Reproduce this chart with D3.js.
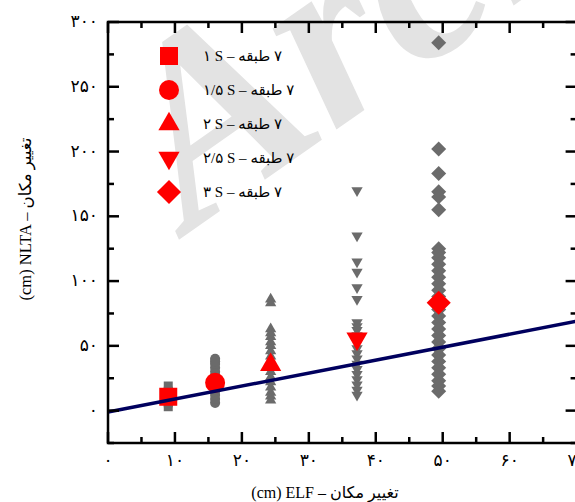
<!DOCTYPE html>
<html>
<head>
<meta charset="utf-8">
<script src="https://cdn.jsdelivr.net/npm/d3@7"></script>
<style>
  body { margin: 0; background: #fff; }
  svg { display: block; font-family: 'Liberation Serif', 'DejaVu Sans', serif; }
</style>
</head>
<body>
<div id="chart"></div>
<script>
// group centres on the ELF axis (cm)
const groupX = [9, 16, 24.3, 37.2, 49.4];
const groupShape = ["square", "circle", "triangle", "triangleDown", "diamond"];
const legendLabels = ["۱ S", "۱/۵ S", "۲ S", "۲/۵ S", "۳ S"];
// mean NLTA per group (red markers)
const meanNLTA = [10.7, 21.5, 35.4, 55.5, 83.3];
// individual records (grey markers)
const g1 = [3, 6, 9, 12, 15, 19];
const g2 = [6, 9, 12, 15, 18, 21, 24, 27, 30, 33, 36, 38, 40];
const g3 = [86, 83, 63, 60, 57, 53, 50, 46, 42, 38, 34, 30, 26, 22, 18, 14, 11, 8];
const g4 = [170, 135, 115, 107, 95, 86, 68, 65, 62, 58, 55, 52, 48, 44, 40, 36, 32, 28, 24, 20, 16, 12];
const g5 = [284, 202, 183, 169, 165, 155, 125, 122, 118, 113, 108, 103, 98, 93, 88, 78, 73, 68, 63, 58, 53, 48, 43, 38, 33, 28, 23, 19, 15];
const groups = [g1, g2, g3, g4, g5];
// fitted line end points
const fitX = [0, 70];
const fitY = [-1, 69];
const xTicks = [0, 10, 20, 30, 40, 50, 60, 70];
const yTicks = [0, 50, 100, 150, 200, 250, 300];

const W = 575, H = 502;
const toFa = n => String(n).replace(/\d/g, c => "۰۱۲۳۴۵۶۷۸۹"[+c]);

const svg = d3.select("#chart").append("svg").attr("width", W).attr("height", H);

const x = d3.scaleLinear().domain([0, 70]).range([108, 576.6]);
const y = d3.scaleLinear().domain([-25, 300]).range([443, 22]);

// watermark
svg.append("text")
  .attr("transform", "translate(190,232) rotate(-35)")
  .attr("font-size", 260)
  .attr("font-weight", "bold")
  .attr("font-style", "italic")
  .attr("fill", "#e3e3e3")
  .text("Archive");

// shape makers
function symFor(shape, big) {
  let s;
  if (shape === "square") s = d3.symbol(d3.symbolSquare, big ? 324 : 81);
  if (shape === "circle") s = d3.symbol(d3.symbolCircle, big ? 314 : 80);
  if (shape === "triangle" || shape === "triangleDown") s = d3.symbol(d3.symbolTriangle, big ? 195 : 55);
  if (shape === "diamond") s = d3.symbol(d3.symbolSquare, big ? 290 : 112);
  return s();
}
function rotFor(shape) {
  if (shape === "triangleDown") return 180;
  if (shape === "diamond") return 45;
  return 0;
}

// grey records
groups.forEach(function(vals, i) {
  svg.append("g").selectAll("path")
    .data(vals)
    .enter().append("path")
    .attr("d", symFor(groupShape[i], false))
    .attr("transform", d => "translate(" + x(groupX[i]) + "," + y(d) + ") rotate(" + rotFor(groupShape[i]) + ")")
    .attr("fill", "#6b6b6b");
});

// means
svg.append("g").selectAll("path")
  .data(meanNLTA)
  .enter().append("path")
  .attr("d", (d, i) => symFor(groupShape[i], true))
  .attr("transform", (d, i) => "translate(" + x(groupX[i]) + "," + y(d) + ") rotate(" + rotFor(groupShape[i]) + ")")
  .attr("fill", "#ff0000");

// fit line
svg.append("line")
  .attr("x1", x(fitX[0])).attr("y1", y(fitY[0]))
  .attr("x2", x(fitX[1])).attr("y2", y(fitY[1]))
  .attr("stroke", "#00005e")
  .attr("stroke-width", 3.5);

// frame
svg.append("rect")
  .attr("x", x(0)).attr("y", y(300))
  .attr("width", x(70) - x(0)).attr("height", y(-25) - y(300))
  .attr("fill", "none").attr("stroke", "#000").attr("stroke-width", 2.5);

// inward ticks on all four sides
const xMinor = d3.range(0, 71, 5);
const yMinor = d3.range(-25, 301, 25);
const tk = svg.append("g").attr("stroke", "#000").attr("stroke-width", 2.5);
xMinor.forEach(function(v) {
  const len = v % 10 === 0 ? 11 : 6;
  tk.append("line").attr("x1", x(v)).attr("x2", x(v)).attr("y1", y(-25)).attr("y2", y(-25) - len);
  tk.append("line").attr("x1", x(v)).attr("x2", x(v)).attr("y1", y(300)).attr("y2", y(300) + len);
});
yMinor.forEach(function(v) {
  const len = v % 50 === 0 ? 11 : 6;
  tk.append("line").attr("y1", y(v)).attr("y2", y(v)).attr("x1", x(0)).attr("x2", x(0) + len);
  tk.append("line").attr("y1", y(v)).attr("y2", y(v)).attr("x1", x(70)).attr("x2", x(70) - len);
});

// tick labels
svg.append("g").selectAll("text")
  .data(xTicks)
  .enter().append("text")
  .attr("x", d => x(d)).attr("y", 466)
  .attr("text-anchor", "middle")
  .attr("font-size", 17)
  .text(d => toFa(d));

svg.append("g").selectAll("text")
  .data(yTicks)
  .enter().append("text")
  .attr("x", 98).attr("y", d => y(d) + 5)
  .attr("text-anchor", "end")
  .attr("font-size", 17)
  .text(d => toFa(d));

// writes pieces left to right so mixed scripts keep their visual order
function rowText(g, x0, yb, pieces, size) {
  let cx = x0;
  pieces.forEach(function(p) {
    const t = g.append("text").attr("x", cx).attr("y", yb).attr("font-size", size).text(p);
    cx += t.node().getComputedTextLength() + size * 0.25;
  });
  return cx - x0;
}

// axis titles
const xt = svg.append("g");
const xw = rowText(xt, 0, 0, ["(cm) ELF –", "تغییر مکان"], 16);
xt.attr("transform", "translate(" + (327 - xw / 2) + ",498)");

const yt = svg.append("g");
const yw = rowText(yt, 0, 0, ["(cm) NLTA –", "تغییر مکان"], 16.5);
yt.attr("transform", "translate(31," + (217 + yw / 2) + ") rotate(-90)");

// legend
const legendY = [56, 90, 124, 158, 192];
const leg = svg.append("g");
legendLabels.forEach(function(lab, i) {
  leg.append("path")
    .attr("d", symFor(groupShape[i], true))
    .attr("transform", "translate(169," + legendY[i] + ") rotate(" + rotFor(groupShape[i]) + ")")
    .attr("fill", "#ff0000");
  rowText(leg, 203, legendY[i] + 5, [lab + " –", "طبقه", "۷"], 15);
});
</script>
</body>
</html>
